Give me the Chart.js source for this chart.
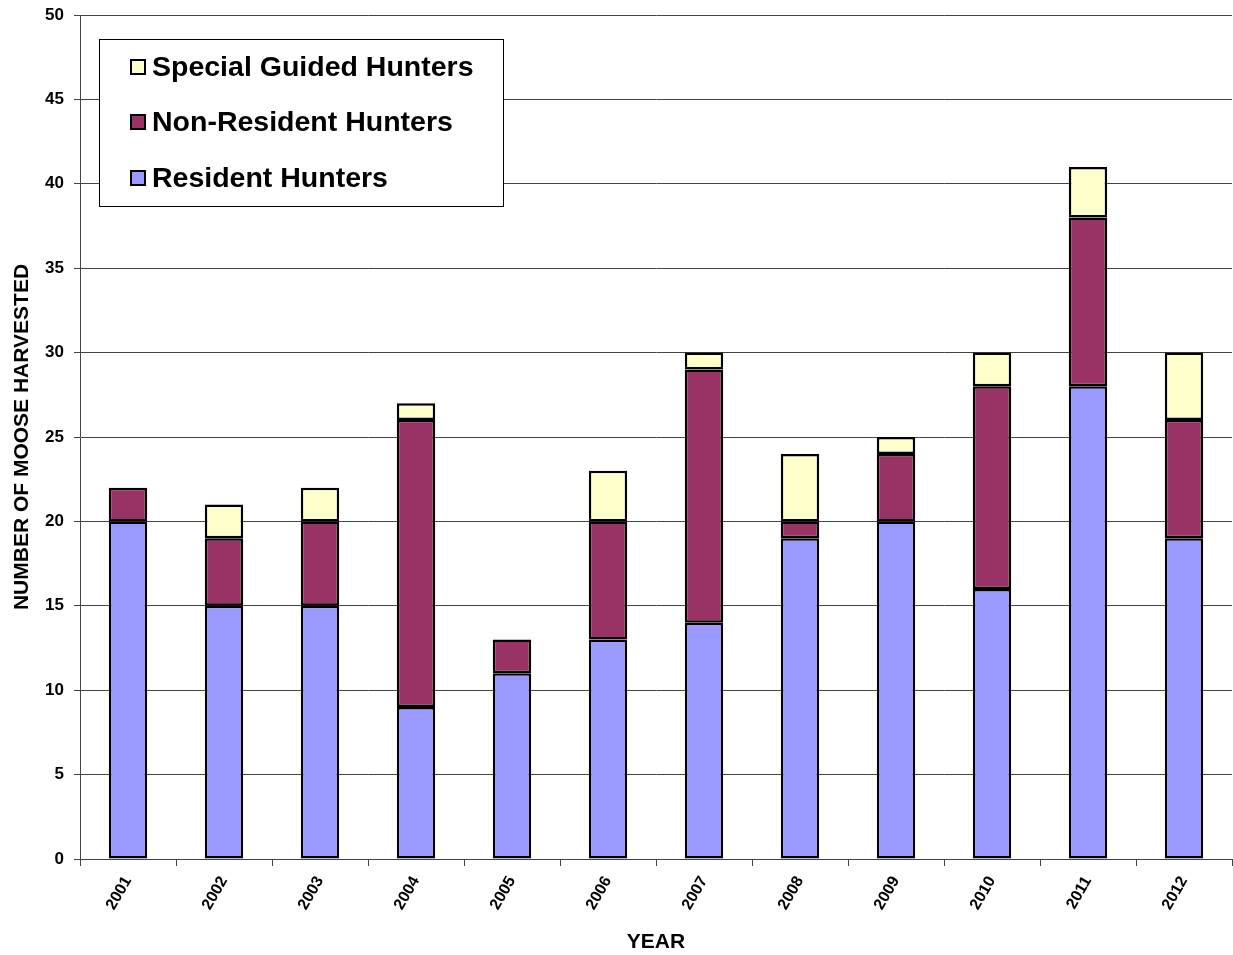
<!DOCTYPE html>
<html>
<head>
<meta charset="utf-8">
<script src="https://cdn.jsdelivr.net/npm/chart.js@4.4.0/dist/chart.umd.min.js"></script>
<style>
html,body{margin:0;padding:0;background:#fff;}
#wrap{width:1233px;height:955px;position:relative;}
</style>
</head>
<body>
<div id="wrap"><canvas id="c" width="1233" height="955"></canvas></div>
<script>
const years = ["2001","2002","2003","2004","2005","2006","2007","2008","2009","2010","2011","2012"];
const resident = [20,15,15,9,11,13,14,19,20,16,28,19];
const nonResident = [2,4,5,17,2,7,15,1,4,12,10,7];
const specialGuided = [0,2,2,1,0,3,1,4,1,2,3,4];
const yTicks = [0,5,10,15,20,25,30,35,40,45,50];

const FONT = "'Liberation Sans', Arial, sans-serif";

const legendPlugin = {
  id: 'boxLegend',
  afterDatasetsDraw(chart) {
    const ctx = chart.ctx;
    const x0 = 99, y0 = 39, w = 404, h = 167;
    ctx.save();
    ctx.fillStyle = '#fff';
    ctx.fillRect(x0, y0, w, h);
    ctx.strokeStyle = '#000';
    ctx.lineWidth = 1;
    ctx.strokeRect(x0 + 0.5, y0 + 0.5, w, h);
    const ds = chart.data.datasets.slice().reverse();
    const ys = [67, 122, 178];
    ctx.font = "bold 28.5px " + FONT;
    ctx.textBaseline = 'middle';
    ds.forEach((d, i) => {
      ctx.fillStyle = d.backgroundColor;
      ctx.fillRect(131, ys[i] - 7, 14, 14);
      ctx.strokeStyle = '#000';
      ctx.lineWidth = 2;
      ctx.strokeRect(131, ys[i] - 7, 14, 14);
      ctx.fillStyle = '#000';
      ctx.fillText(d.label, 152, ys[i] + 1);
    });
    ctx.restore();
  }
};

new Chart(document.getElementById('c'), {
  type: 'bar',
  data: {
    labels: years,
    datasets: [
      {label: 'Resident Hunters', data: resident, backgroundColor: '#9999FF', borderColor: '#000', borderWidth: 2.5, borderSkipped: false, inflateAmount: 0},
      {label: 'Non-Resident Hunters', data: nonResident, backgroundColor: '#993366', borderColor: '#000', borderWidth: 2.5, borderSkipped: false, inflateAmount: 0},
      {label: 'Special Guided Hunters', data: specialGuided, backgroundColor: '#FFFFCC', borderColor: '#000', borderWidth: 2.5, borderSkipped: false, inflateAmount: 0}
    ]
  },
  options: {
    responsive: false,
    animation: false,
    devicePixelRatio: 1,
    layout: {padding: {top: 15, right: 1, left: 0, bottom: 0}},
    plugins: {legend: {display: false}, tooltip: {enabled: false}},
    datasets: {bar: {barPercentage: 0.4, categoryPercentage: 1.0}},
    scales: {
      x: {
        stacked: true,
        afterFit(s) { s.height = 96; s.paddingLeft = 0; s.paddingRight = 0; },
        grid: {offset: true, drawOnChartArea: false, drawTicks: true, tickLength: 7, color: '#444'},
        border: {color: '#444', width: 1},
        ticks: {color: '#000', font: {family: FONT, weight: 'bold', size: 16}, maxRotation: 60, minRotation: 60, padding: 7},
        title: {display: true, text: 'YEAR', color: '#000', font: {family: FONT, weight: 'bold', size: 21}, padding: {top: 0, bottom: 0}}
      },
      y: {
        stacked: true,
        min: 0, max: 50,
        afterFit(s) { s.width = 80; s.paddingTop = 0; s.paddingBottom = 0; },
        afterBuildTicks(s) { s.ticks = yTicks.map(v => ({value: v})); },
        grid: {color: '#444', lineWidth: 1, tickLength: 6, tickColor: '#444'},
        border: {color: '#444', width: 1},
        ticks: {color: '#000', font: {family: FONT, weight: 'bold', size: 17}, padding: 10},
        title: {display: true, text: 'NUMBER OF MOOSE HARVESTED', color: '#000', font: {family: FONT, weight: 'bold', size: 21}, padding: {top: 10, bottom: 0}}
      }
    }
  },
  plugins: [legendPlugin]
});
</script>
</body>
</html>
